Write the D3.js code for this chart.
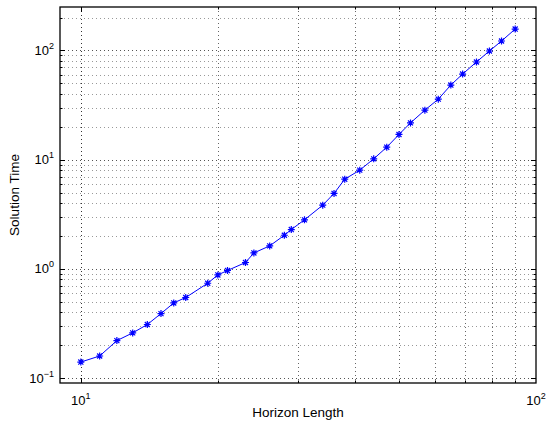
<!DOCTYPE html>
<html>
<head>
<meta charset="utf-8">
<script src="https://cdn.jsdelivr.net/npm/d3@7"></script>
<style>
  body { margin: 0; background: #fff; }
  text { font-family: "Liberation Sans", Arial, Helvetica, sans-serif; }
</style>
</head>
<body>
<div id="chart"></div>
<script>
// horizon lengths (x) and solution times (y)
let horizon = [10, 11, 12, 13, 14, 15, 16, 17, 19, 20, 21, 23, 24, 26, 28, 29, 31,
               34, 36, 38, 41, 44, 47, 50, 53, 57, 61, 65, 69, 74, 79, 84, 90];
let solveTime = [0.140, 0.159, 0.220, 0.259, 0.309, 0.389, 0.487, 0.546, 0.738, 0.879,
                 0.965, 1.142, 1.398, 1.622, 2.03, 2.29, 2.81, 3.83, 4.90, 6.62,
                 8.01, 10.17, 13.0, 17.0, 21.7, 28.4, 35.8, 48.2, 60.8, 78.4, 98.8, 122, 157];

// decade ticks and their labels
let xMajor = [10, 100];
let xLabels = ["1", "2"];
let yMajor = [0.1, 1, 10, 100];
let yLabels = ["\u22121", "0", "1", "2"];

let xLabelText = "Horizon Length";
let yLabelText = "Solution Time";

(function() {

  let W = 547, H = 423;
  let left = 60, right = 536, top = 7, bottom = 383;

  let svg = d3.select("#chart")
    .append("svg")
      .attr("width", W)
      .attr("height", H);

  let x = d3.scaleLog().domain([9, 100]).range([left, right]);
  let y = d3.scaleLog().domain([0.09, 250]).range([bottom, top]);

  // minor ticks: 2..9 times each decade, strictly inside the box
  function minors(scale) {
    let d = scale.domain(), out = [];
    for (let e = -3; e <= 3; e++) {
      for (let k = 2; k <= 9; k++) {
        let v = k * Math.pow(10, e);
        if (v > d[0] * 1.0001 && v < d[1] * 0.9999) out.push(+v.toPrecision(6));
      }
    }
    return out;
  }
  let xMinor = minors(x);
  let yMinor = minors(y);
  let inside = (s) => (v) => v > s.domain()[0] * 1.0001 && v < s.domain()[1] * 0.9999;

  // grid lines (dotted)
  let grid = svg.append("g").attr("fill", "none");
  grid.selectAll(".gx")
    .data(xMinor.concat(xMajor.filter(inside(x))))
    .enter().append("line")
      .attr("x1", d => Math.round(x(d)) + 0.5).attr("x2", d => Math.round(x(d)) + 0.5)
      .attr("y1", top).attr("y2", bottom)
      .attr("stroke", d => xMajor.includes(d) ? "#333" : "#666")
      .attr("stroke-dasharray", "1,3");
  grid.selectAll(".gy")
    .data(yMinor.concat(yMajor.filter(inside(y))))
    .enter().append("line")
      .attr("y1", d => Math.round(y(d)) + 0.5).attr("y2", d => Math.round(y(d)) + 0.5)
      .attr("x1", left).attr("x2", right)
      .attr("stroke", d => yMajor.includes(d) ? "#555" : "#999")
      .attr("stroke-dasharray", "1,3");

  // ticks on all four sides, pointing inward
  let ticks = svg.append("g").attr("stroke", "#000").attr("stroke-width", 1);
  let xt = xMajor.filter(inside(x)).map(v => ({v: v, len: 5}))
    .concat(xMinor.map(v => ({v: v, len: 2.5})));
  let yt = yMajor.filter(inside(y)).map(v => ({v: v, len: 5}))
    .concat(yMinor.map(v => ({v: v, len: 2.5})));
  xt.forEach(t => {
    let px = Math.round(x(t.v)) + 0.5;
    ticks.append("line").attr("x1", px).attr("x2", px).attr("y1", bottom).attr("y2", bottom - t.len);
    ticks.append("line").attr("x1", px).attr("x2", px).attr("y1", top).attr("y2", top + t.len);
  });
  yt.forEach(t => {
    let py = Math.round(y(t.v)) + 0.5;
    ticks.append("line").attr("y1", py).attr("y2", py).attr("x1", left).attr("x2", left + t.len);
    ticks.append("line").attr("y1", py).attr("y2", py).attr("x1", right).attr("x2", right - t.len);
  });

  // box
  svg.append("rect")
    .attr("x", left).attr("y", top)
    .attr("width", right - left).attr("height", bottom - top)
    .attr("fill", "none")
    .attr("stroke", "#000")
    .attr("stroke-width", 1.3);

  // tick labels as 10^n
  let xl = svg.append("g").selectAll("text")
    .data(xMajor)
    .enter().append("text")
      .attr("x", d => x(d))
      .attr("y", 405)
      .attr("text-anchor", "middle")
      .attr("font-size", 13);
  xl.append("tspan").text("10");
  xl.append("tspan").attr("dy", -6).attr("font-size", 9).text((d, i) => xLabels[i]);

  let yl = svg.append("g").selectAll("text")
    .data(yMajor)
    .enter().append("text")
      .attr("x", 54)
      .attr("y", d => y(d) + 4.6)
      .attr("text-anchor", "end")
      .attr("font-size", 13);
  yl.append("tspan").text("10");
  yl.append("tspan").attr("dy", -6).attr("font-size", 9).text((d, i) => yLabels[i]);

  // axis titles
  svg.append("text")
    .attr("x", (left + right) / 2)
    .attr("y", 417)
    .attr("text-anchor", "middle")
    .attr("font-size", 13.5)
    .text(xLabelText);
  svg.append("text")
    .attr("transform", "translate(19," + (top + bottom) / 2 + ") rotate(-90)")
    .attr("text-anchor", "middle")
    .attr("font-size", 13.5)
    .text(yLabelText);

  // series line
  let data = horizon.map((h, i) => ({h: h, t: solveTime[i]}));
  svg.append("path")
    .datum(data)
    .attr("fill", "none")
    .attr("stroke", "#0000ff")
    .attr("stroke-width", 1)
    .attr("d", d3.line().x(d => x(d.h)).y(d => y(d.t)));

  // asterisk markers
  let r = 3.5, rd = r * 0.72;
  let star = "M0," + (-r) + "V" + r + "M" + (-r) + ",0H" + r +
             "M" + (-rd) + "," + (-rd) + "L" + rd + "," + rd +
             "M" + (-rd) + "," + rd + "L" + rd + "," + (-rd);
  svg.append("g").selectAll("path")
    .data(data)
    .enter().append("path")
      .attr("transform", d => "translate(" + x(d.h) + "," + y(d.t) + ")")
      .attr("d", star)
      .attr("fill", "none")
      .attr("stroke", "#0000ff")
      .attr("stroke-width", 1.2);

})();
</script>
</body>
</html>
